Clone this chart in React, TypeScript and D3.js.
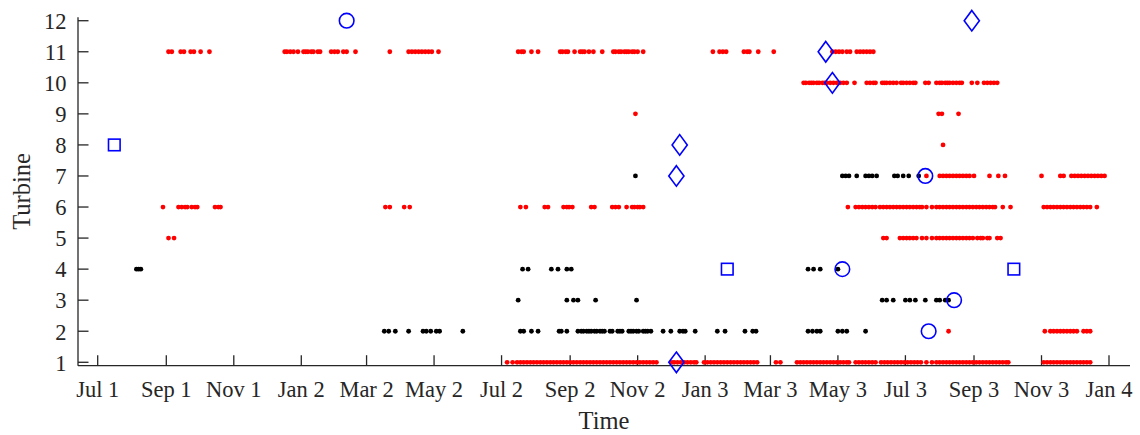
import React from "react";
import * as d3 from "d3";

// All dates are given as day offsets from START (2001-07-01)
const START = Date.UTC(2001, 6, 1);
const END_TICK = Date.UTC(2004, 0, 1);

const yTicks = [1, 2, 3, 4, 5, 6, 7, 8, 9, 10, 11, 12];
const xTickDates = [
  "2001-07-01", "2001-09-01", "2001-11-01", "2002-01-01", "2002-03-01", "2002-05-01",
  "2002-07-01", "2002-09-01", "2002-11-01", "2003-01-01", "2003-03-01", "2003-05-01",
  "2003-07-01", "2003-09-01", "2003-11-01", "2004-01-01",
];
const monthNames = ["Jan", "Feb", "Mar", "Apr", "May", "Jun", "Jul", "Aug", "Sep", "Oct", "Nov", "Dec"];

// ---- red alarms (day offsets) ----
const red11 = [
  64, 67, 75, 78, 84, 87, 93, 101,
  169, 171, 174, 177, 181, 186, 188, 190, 193, 195, 199, 201, 211, 214, 217, 222, 225, 233,
  264, 281, 284, 287, 290, 293, 296, 299, 302, 308,
  380, 383, 385, 392, 398, 418, 420, 423, 425, 431, 436, 438, 440, 444, 448, 456,
  466, 468, 471, 473, 476, 478, 480, 483, 485, 488, 493,
  556, 562, 565, 568, 584, 587, 589, 597, 611,
  664, 667, 670, 673, 677, 680, 686, 689, 692, 695, 698, 701,
];
const red10 = [
  638, 640, 643, 645, 647, 650, 652, 655, 657, 659, 662, 665, 668, 671, 674, 677, 684,
  695, 698, 701, 703, 709, 711, 713, 716, 719, 722, 726, 728, 731, 734, 737, 739,
  748, 751, 758, 761, 763, 766, 768, 770, 773, 776, 779, 781, 790, 795, 801, 804, 807, 810, 813,
];
const red9 = [486, 760, 763, 778];
const red8 = [764];
const red7 = [
  749, 761, 764, 767, 770, 773, 776, 779, 782, 785, 788, 792, 806, 814, 820,
  853, 870, 873, 880, 883, 886, 889, 892, 895, 898, 901, 904, 907, 910,
];
const red6 = [
  59, 73, 76, 79, 81, 85, 88, 90, 106, 109, 111,
  260, 264, 277, 282,
  382, 387, 404, 407, 421, 424, 426, 429, 446, 449, 465, 468, 471, 478, 483, 485, 488, 490, 493,
  678, 685, 688, 691, 694, 697, 700, 703, 707, 710, 713, 716, 719, 722, 725, 728, 731, 734, 737,
  740, 743, 745, 749, 754, 758, 761, 764, 767, 770, 773, 776, 779, 782, 785, 788, 791, 794, 797,
  800, 803, 806, 809, 811, 818, 825,
  855, 858, 861, 864, 867, 870, 873, 876, 879, 882, 885, 888, 891, 894, 897, 903,
];
const red5 = [
  64, 69,
  710, 713, 725, 728, 731, 734, 737, 740, 745, 749, 754, 758, 761, 764, 767, 770, 773, 776,
  779, 782, 785, 788, 791, 795, 798, 800, 804, 806, 813, 816,
];
const red2 = [769, 856, 861, 864, 867, 870, 873, 876, 879, 882, 885, 891, 894, 897];
const red1 = [
  370, 375, 379, 382, 385, 388, 391, 394, 397, 400, 403, 406, 409, 412, 415, 418, 421, 424, 427,
  430, 433, 436, 439, 442, 445, 448, 451, 454, 457, 460, 463, 466, 469, 472, 475, 478, 481, 484,
  487, 490, 493, 496, 499, 502, 505,
  519, 521, 524, 527, 530, 533, 536, 539, 541,
  548, 551, 554, 557, 560, 563, 566, 569, 572, 575, 578, 581, 584, 587, 590, 593, 596,
  613, 617,
  632, 635, 638, 641, 644, 647, 650, 653, 656, 659, 662, 665, 668, 671, 674, 677, 679,
  685, 688, 691, 694, 697, 700, 703,
  708, 711, 714, 717, 720, 723, 726, 729, 732, 735, 738, 741, 744,
  749, 754,
  758, 761, 764, 767, 770, 773, 776, 779, 782, 785, 788, 791, 794, 797, 800, 803, 806, 809, 812,
  815, 818, 821, 823,
  855, 858, 861, 864, 867, 870, 873, 876, 879, 882, 885, 888, 891, 894, 897,
];

// ---- black alarms ----
const black7 = [486, 673, 676, 679, 686, 694, 697, 700, 704, 720, 723, 728, 733, 742];
const black4 = [35, 37, 39, 384, 389, 410, 416, 424, 428, 642, 647, 653, 669];
const black3 = [380, 424, 430, 434, 450, 487, 709, 713, 719, 730, 734, 739, 748, 758, 761, 766, 769];
const black2 = [
  259, 263, 269, 281, 294, 297, 301, 306, 309, 330,
  382, 385, 392, 398, 417, 419, 424, 434, 437, 439, 442, 444, 446, 449, 451, 454, 456, 458,
  463, 465, 470, 472, 474, 480, 482, 484, 487, 489, 493, 495, 497, 500,
  511, 518, 526, 529, 531, 540, 560, 567, 585, 592, 595,
  642, 646, 650, 653, 669, 673, 677, 694,
];

// ---- blue events: [day offset, turbine] ----
const squares: [number, number][] = [[15, 8], [569, 4], [828, 4]];
const circles: [number, number][] = [[225, 12], [748, 7], [673, 4], [774, 3], [751, 2]];
const diamonds: [number, number][] = [[526, 8], [523, 7], [523, 1], [658, 11], [664, 10], [790, 12]];

const redSeries: [number, number[]][] = [
  [11, red11], [10, red10], [9, red9], [8, red8], [7, red7], [6, red6], [5, red5], [2, red2], [1, red1],
];
const blackSeries: [number, number[]][] = [[7, black7], [4, black4], [3, black3], [2, black2]];

const W = 1140;
const H = 435;
const LEFT = 78;
const RIGHT = 1130;
const TOP = 17.3;
const BOTTOM = 365.7;
const INK = "#262626";
const FONT = "'Liberation Serif', 'Times New Roman', serif";

const toDate = (d: number) => new Date(START + d * 864e5);

export default function App() {
  const x0 = d3.scaleUtc().domain([new Date(START), new Date(END_TICK)]).range([97.7, 1109]);
  const x = d3.scaleUtc().domain([x0.invert(LEFT), x0.invert(RIGHT)]).range([LEFT, RIGHT]);
  const y = d3.scaleLinear().domain([0.89, 12.11]).range([BOTTOM, TOP]);
  const tickLen = 10.5;

  const redPts = redSeries.flatMap(([t, ds]) => ds.map((d) => ({ t, d })));
  const blackPts = blackSeries.flatMap(([t, ds]) => ds.map((d) => ({ t, d })));

  return (
    <svg width={W} height={H} style={{ position: "absolute", left: 0, top: 0, background: "#fff" }}>
      {/* axes */}
      <g stroke={INK} strokeWidth={1.3} fill="none">
        <line x1={LEFT} x2={LEFT} y1={TOP} y2={BOTTOM} />
        <line x1={LEFT} x2={RIGHT} y1={BOTTOM} y2={BOTTOM} />
        {yTicks.map((t) => (
          <line key={"yt" + t} x1={LEFT} x2={LEFT + tickLen} y1={y(t)} y2={y(t)} />
        ))}
        {xTickDates.map((s) => {
          const d = new Date(s + "T00:00:00Z");
          return <line key={"xt" + s} x1={x(d)} x2={x(d)} y1={BOTTOM} y2={BOTTOM - tickLen} />;
        })}
      </g>
      <g fill={INK} fontFamily={FONT} fontSize={22.5}>
        {yTicks.map((t) => (
          <text key={"yl" + t} x={66.5} y={y(t) + 8.3} textAnchor="end">
            {t}
          </text>
        ))}
        {xTickDates.map((s) => {
          const d = new Date(s + "T00:00:00Z");
          return (
            <text key={"xl" + s} x={x(d)} y={396.8} textAnchor="middle">
              {`${monthNames[d.getUTCMonth()]} ${d.getUTCFullYear() % 10}`}
            </text>
          );
        })}
      </g>
      <text x={(LEFT + RIGHT) / 2} y={428.5} textAnchor="middle" fontFamily={FONT} fontSize={24.5} fill={INK}>
        Time
      </text>
      <text
        transform={`translate(29.5, ${(TOP + BOTTOM) / 2}) rotate(-90)`}
        textAnchor="middle"
        fontFamily={FONT}
        fontSize={24.5}
        fill={INK}
      >
        Turbine
      </text>

      {/* points */}
      <g fill="#ff0000">
        {redPts.map((p, i) => (
          <circle key={"r" + i} cx={x(toDate(p.d))} cy={y(p.t)} r={2.4} />
        ))}
      </g>
      <g fill="#000000">
        {blackPts.map((p, i) => (
          <circle key={"b" + i} cx={x(toDate(p.d))} cy={y(p.t)} r={2.4} />
        ))}
      </g>
      <g fill="none" stroke="#0000ff" strokeWidth={1.6}>
        {squares.map(([d, t], i) => (
          <rect key={"s" + i} x={x(toDate(d)) - 5.8} y={y(t) - 5.8} width={11.6} height={11.6} />
        ))}
        {circles.map(([d, t], i) => (
          <circle key={"c" + i} cx={x(toDate(d))} cy={y(t)} r={7.3} />
        ))}
        {diamonds.map(([d, t], i) => {
          const cx = x(toDate(d));
          const cy = y(t);
          return (
            <path
              key={"d" + i}
              d={`M${cx},${cy - 10.3}L${cx + 7.6},${cy}L${cx},${cy + 10.3}L${cx - 7.6},${cy}Z`}
            />
          );
        })}
      </g>
    </svg>
  );
}
